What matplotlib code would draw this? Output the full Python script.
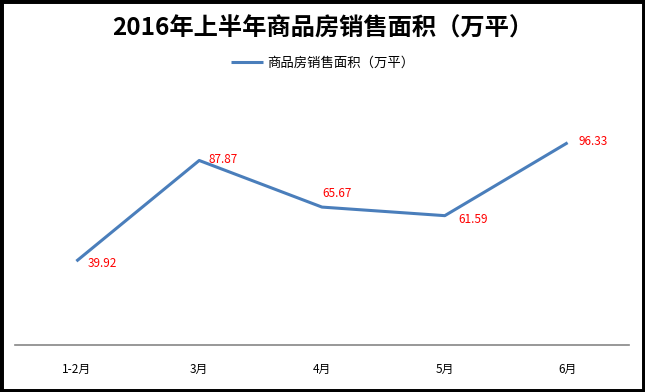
import matplotlib
matplotlib.use("Agg")
import matplotlib.pyplot as plt
from matplotlib.patches import Rectangle

plt.rcParams['font.family'] = ['Noto Sans CJK SC', 'DejaVu Sans']

months = ["1-2月", "3月", "4月", "5月", "6月"]
area = [39.92, 87.87, 65.67, 61.59, 96.33]
series_name = "商品房销售面积（万平）"
title = "2016年上半年商品房销售面积（万平）"

# label offsets in points (dx, dy, ha, va)
label_pos = [(8, -2, "left", "center"), (7, 1, "left", "center"),
             (0, 10, "left", "center"), (10, -3, "left", "center"),
             (8, 1, "left", "center")]

fig = plt.figure(figsize=(6.45, 3.92), dpi=100)
ax = fig.add_axes([15 / 645, 47 / 392, 614 / 645, 252 / 392])

x = list(range(len(months)))
line, = ax.plot(x, area, color="#4A7EBB", lw=2.2, solid_capstyle="butt",
                label=series_name)

for xi, v, (dx, dy, ha, va) in zip(x, area, label_pos):
    ax.annotate(f"{v:.2f}", (xi, v), xytext=(dx, dy), textcoords="offset points",
                ha=ha, va=va, color="red", fontsize=8.5)

ax.set_xlim(-0.5, len(months) - 0.5)
ax.set_ylim(0, 120)
ax.set_xticks(x)
ax.set_xticklabels(months, fontsize=8.5)
ax.tick_params(axis="x", length=0, pad=13)
ax.set_yticks([])
for s in ["top", "left", "right"]:
    ax.spines[s].set_visible(False)
ax.spines["bottom"].set_color("#868686")
ax.spines["bottom"].set_linewidth(1.2)

fig.text(0.5, 0.927, title, ha="center", va="center", fontsize=17.5,
         fontweight="bold")
fig.legend(handles=[line], loc="center", bbox_to_anchor=(0.5, 0.84),
           frameon=False, fontsize=9.6, handlelength=2.4, handletextpad=0.35)

fig.patches.append(Rectangle((0, 0), 1, 1, transform=fig.transFigure,
                             fill=False, edgecolor="black", lw=5))

fig.savefig("out.png", dpi=100)
